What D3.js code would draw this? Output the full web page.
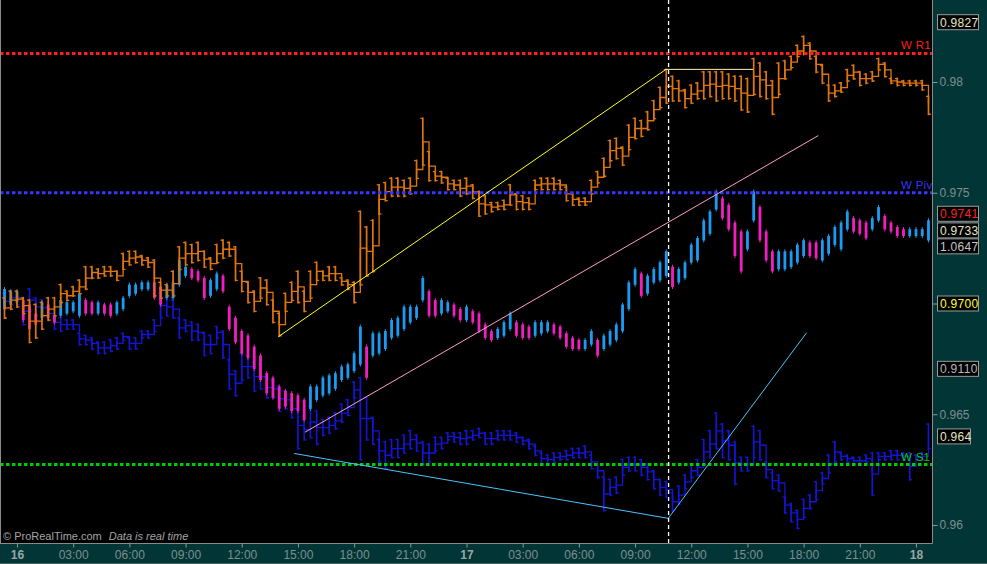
<!DOCTYPE html>
<html><head><meta charset="utf-8">
<script src="https://cdn.jsdelivr.net/npm/d3@7"></script>
<style>html,body{margin:0;padding:0;background:#000;overflow:hidden}svg{display:block}</style>
</head><body><svg id="c" width="987" height="564"></svg>
<script>
// ---- time of bars: 20-minute bars, first bar at 23:20 on the 15th (hours relative to the 16th 00:00)
const barStartHour = -2/3, barStepHours = 1/3;

// ---- orange instrument (hi / lo per bar)
const orangeHi = [0.9703,0.9706,0.9706,0.9703,0.9702,0.9700,0.9701,0.9703,0.9703,0.9709,
0.9706,0.9708,0.9711,0.9717,0.9717,0.9716,0.9717,0.9717,0.9715,0.9723,
0.9724,0.9724,0.9722,0.9721,0.9720,0.9710,0.9709,0.9715,0.9726,0.9728,
0.9727,0.9728,0.9724,0.9721,0.9727,0.9729,0.9728,0.9726,0.9715,0.9710,
0.9706,0.9712,0.9711,0.9702,0.9696,0.9705,0.9710,0.9715,0.9706,0.9715,
0.9719,0.9715,0.9717,0.9717,0.9712,0.9711,0.9710,0.9742,0.9735,0.9738,
0.9754,0.9755,0.9757,0.9757,0.9756,0.9757,0.9765,0.9784,0.9769,0.9760,
0.9760,0.9757,0.9756,0.9756,0.9757,0.9754,0.9751,0.9749,0.9746,0.9746,
0.9747,0.9754,0.9750,0.9749,0.9748,0.9756,0.9757,0.9757,0.9757,0.9756,
0.9753,0.9750,0.9748,0.9748,0.9756,0.9760,0.9766,0.9774,0.9775,0.9771,
0.9781,0.9784,0.9783,0.9787,0.9792,0.9798,0.9806,0.9803,0.9801,0.9797,
0.9799,0.9800,0.9805,0.9805,0.9805,0.9805,0.9804,0.9803,0.9803,0.9802,
0.9811,0.9809,0.9805,0.9801,0.9809,0.9810,0.9812,0.9817,0.9821,0.9818,
0.9812,0.9808,0.9799,0.9799,0.9800,0.9806,0.9808,0.9805,0.9804,0.9805,
0.9811,0.9809,0.9802,0.9802,0.9801,0.9801,0.9801,0.9801,0.9794];
const orangeLo = [0.9693,0.9697,0.9698,0.9695,0.9682,0.9684,0.9688,0.9692,0.9694,0.9700,
0.9701,0.9703,0.9704,0.9706,0.9711,0.9711,0.9712,0.9712,0.9710,0.9715,
0.9717,0.9718,0.9717,0.9716,0.9703,0.9702,0.9703,0.9703,0.9715,0.9717,
0.9718,0.9719,0.9716,0.9715,0.9718,0.9720,0.9721,0.9710,0.9705,0.9700,
0.9696,0.9702,0.9699,0.9691,0.9685,0.9696,0.9701,0.9700,0.9696,0.9702,
0.9710,0.9710,0.9710,0.9710,0.9708,0.9706,0.9700,0.9708,0.9712,0.9714,
0.9740,0.9746,0.9748,0.9748,0.9748,0.9749,0.9756,0.9762,0.9755,0.9755,
0.9754,0.9751,0.9751,0.9748,0.9749,0.9747,0.9739,0.9740,0.9741,0.9742,
0.9742,0.9744,0.9742,0.9742,0.9742,0.9751,0.9751,0.9751,0.9751,0.9751,
0.9746,0.9744,0.9744,0.9744,0.9749,0.9754,0.9757,0.9764,0.9765,0.9762,
0.9769,0.9774,0.9775,0.9778,0.9783,0.9788,0.9790,0.9791,0.9791,0.9788,
0.9790,0.9792,0.9792,0.9793,0.9791,0.9792,0.9792,0.9791,0.9787,0.9786,
0.9794,0.9793,0.9792,0.9785,0.9794,0.9801,0.9806,0.9811,0.9812,0.9810,
0.9804,0.9799,0.9791,0.9793,0.9795,0.9800,0.9801,0.9798,0.9799,0.9800,
0.9805,0.9802,0.9799,0.9798,0.9798,0.9798,0.9798,0.9796,0.9785];

// ---- cyan / magenta instrument
const cyanHi = [0.9707,0.9706,0.9706,0.9702,0.9700,0.9696,0.9701,0.9700,0.9695,0.9702,
0.9701,0.9701,0.9705,0.9702,0.9701,0.9701,0.9700,0.9700,0.9701,0.9703,
0.9709,0.9709,0.9710,0.9710,0.9710,0.9708,0.9709,0.9710,0.9720,0.9717,
0.9716,0.9715,0.9712,0.9711,0.9714,0.9713,0.9699,0.9694,0.9688,0.9686,
0.9681,0.9677,0.9669,0.9667,0.9663,0.9661,0.9660,0.9659,0.9657,0.9663,
0.9663,0.9667,0.9668,0.9669,0.9672,0.9673,0.9678,0.9690,0.9681,0.9687,
0.9687,0.9688,0.9693,0.9694,0.9699,0.9699,0.9699,0.9712,0.9706,0.9702,
0.9702,0.9701,0.9700,0.9698,0.9699,0.9697,0.9696,0.9691,0.9688,0.9689,
0.9692,0.9696,0.9692,0.9691,0.9690,0.9692,0.9692,0.9692,0.9691,0.9690,
0.9687,0.9685,0.9684,0.9684,0.9688,0.9684,0.9686,0.9688,0.9691,0.9700,
0.9710,0.9716,0.9714,0.9713,0.9716,0.9719,0.9724,0.9717,0.9716,0.9719,
0.9727,0.9730,0.9738,0.9742,0.9751,0.9748,0.9745,0.9737,0.9733,0.9733,
0.9751,0.9744,0.9733,0.9724,0.9724,0.9724,0.9724,0.9727,0.9729,0.9728,
0.9728,0.9729,0.9731,0.9735,0.9737,0.9742,0.9739,0.9738,0.9737,0.9739,
0.9744,0.9740,0.9737,0.9735,0.9734,0.9734,0.9734,0.9734,0.9738];
const cyanLo = [0.9697,0.9699,0.9700,0.9692,0.9688,0.9690,0.9693,0.9693,0.9691,0.9694,
0.9695,0.9696,0.9694,0.9695,0.9695,0.9695,0.9695,0.9694,0.9695,0.9697,
0.9703,0.9704,0.9706,0.9706,0.9702,0.9699,0.9702,0.9702,0.9708,0.9712,
0.9711,0.9710,0.9702,0.9703,0.9706,0.9705,0.9688,0.9682,0.9677,0.9675,
0.9670,0.9665,0.9659,0.9657,0.9652,0.9653,0.9651,0.9651,0.9647,0.9652,
0.9656,0.9658,0.9659,0.9661,0.9665,0.9666,0.9669,0.9672,0.9666,0.9676,
0.9677,0.9679,0.9684,0.9685,0.9688,0.9691,0.9693,0.9701,0.9694,0.9694,
0.9695,0.9696,0.9694,0.9692,0.9692,0.9691,0.9687,0.9684,0.9683,0.9684,
0.9685,0.9688,0.9685,0.9684,0.9684,0.9685,0.9686,0.9687,0.9686,0.9684,
0.9680,0.9679,0.9679,0.9679,0.9681,0.9676,0.9679,0.9681,0.9683,0.9687,
0.9697,0.9708,0.9703,0.9704,0.9709,0.9710,0.9712,0.9707,0.9709,0.9711,
0.9718,0.9719,0.9728,0.9731,0.9742,0.9738,0.9733,0.9721,0.9714,0.9724,
0.9737,0.9728,0.9719,0.9714,0.9715,0.9715,0.9716,0.9718,0.9721,0.9721,
0.9720,0.9719,0.9722,0.9726,0.9724,0.9733,0.9732,0.9731,0.9729,0.9733,
0.9737,0.9733,0.9732,0.9730,0.9730,0.9730,0.9730,0.9730,0.9728];

// ---- dark blue instrument
const blueHi = [0.9705,0.9706,0.9706,0.9703,0.9707,0.9703,0.9702,0.9699,0.9695,0.9694,
0.9693,0.9693,0.9687,0.9686,0.9685,0.9683,0.9683,0.9684,0.9685,0.9687,
0.9685,0.9685,0.9688,0.9688,0.9693,0.9705,0.9703,0.9702,0.9694,0.9693,
0.9692,0.9691,0.9687,0.9686,0.9690,0.9688,0.9675,0.9670,0.9678,0.9677,
0.9674,0.9673,0.9667,0.9666,0.9663,0.9661,0.9657,0.9656,0.9648,0.9654,
0.9652,0.9648,0.9649,0.9651,0.9655,0.9657,0.9665,0.9667,0.9658,0.9649,
0.9639,0.9638,0.9639,0.9639,0.9641,0.9643,0.9641,0.9638,0.9637,0.9640,
0.9640,0.9642,0.9642,0.9642,0.9643,0.9643,0.9644,0.9642,0.9642,0.9643,
0.9643,0.9643,0.9642,0.9640,0.9639,0.9636,0.9633,0.9632,0.9633,0.9633,
0.9634,0.9635,0.9635,0.9636,0.9632,0.9628,0.9622,0.9621,0.9622,0.9630,
0.9631,0.9631,0.9630,0.9628,0.9625,0.9621,0.9620,0.9615,0.9618,0.9623,
0.9628,0.9630,0.9639,0.9643,0.9651,0.9646,0.9643,0.9638,0.9631,0.9631,
0.9645,0.9643,0.9629,0.9624,0.9623,0.9613,0.9610,0.9607,0.9612,0.9614,
0.9620,0.9624,0.9632,0.9638,0.9633,0.9632,0.9631,0.9631,0.9632,0.9633,
0.9633,0.9633,0.9634,0.9634,0.9633,0.9633,0.9632,0.9633,0.9646];
const blueLo = [0.9697,0.9699,0.9699,0.9690,0.9696,0.9694,0.9694,0.9692,0.9688,0.9687,
0.9688,0.9688,0.9681,0.9681,0.9679,0.9677,0.9677,0.9678,0.9679,0.9683,
0.9679,0.9679,0.9684,0.9684,0.9687,0.9693,0.9694,0.9693,0.9684,0.9687,
0.9683,0.9683,0.9676,0.9677,0.9684,0.9675,0.9661,0.9658,0.9665,0.9666,
0.9660,0.9661,0.9657,0.9657,0.9651,0.9652,0.9648,0.9634,0.9638,0.9639,
0.9636,0.9640,0.9641,0.9643,0.9646,0.9649,0.9657,0.9629,0.9638,0.9636,
0.9628,0.9625,0.9630,0.9630,0.9632,0.9634,0.9633,0.9627,0.9628,0.9633,
0.9634,0.9638,0.9637,0.9636,0.9636,0.9638,0.9639,0.9636,0.9636,0.9638,
0.9638,0.9638,0.9637,0.9636,0.9634,0.9631,0.9627,0.9627,0.9628,0.9629,
0.9629,0.9630,0.9630,0.9630,0.9625,0.9621,0.9606,0.9613,0.9614,0.9622,
0.9624,0.9624,0.9622,0.9620,0.9616,0.9613,0.9612,0.9606,0.9609,0.9616,
0.9621,0.9622,0.9627,0.9630,0.9634,0.9630,0.9629,0.9618,0.9624,0.9624,
0.9630,0.9629,0.9621,0.9616,0.9615,0.9605,0.9601,0.9598,0.9603,0.9607,
0.9611,0.9618,0.9623,0.9628,0.9629,0.9628,0.9627,0.9627,0.9628,0.9613,
0.9629,0.9629,0.9629,0.9629,0.9629,0.9620,0.9629,0.9629,0.9634];

// ---- axes
const xTickHours  = [0,3,6,9,12,15,18,21,24,27,30,33,36,39,42,45,48];
const xTickLabels = ["16","03:00","06:00","09:00","12:00","15:00","18:00","21:00","17","03:00","06:00","09:00","12:00","15:00","18:00","21:00","18"];
const yTickValues = [0.98,0.975,0.97,0.965,0.96];
const yTickLabels = ["0.98","0.975","0.97","0.965","0.96"];

// ---- weekly pivot levels
const levelNames  = ["W R1","W Piv","W S1"];
const levelValues = [0.98129,0.975,0.96273];

// ---- last-value boxes on the price scale
const boxTexts  = ["0.9827","0.9741","0.9733","1.0647","0.9700","0.9110","0.964"];
const boxPrices = [0.9827,0.97405,0.9733,0.97258,0.9700,0.96705,0.964];

// ---- drawn trend lines [hour, price]
const yellowTrend = [[13.95,0.9685],[34.6,0.98054]];
const whiteLevel  = [[34.6,0.98057],[39.3,0.98057]];
const pinkTrend   = [[15.38,0.96419],[42.78,0.97758]];
const blueTrend   = [[14.8,0.96323],[34.77,0.9603],[42.16,0.96868]];
const cursorHour  = 34.79;

// ================= drawing =================
const W = 987, H = 564, plotR = 932, plotB = 543;
const svg = d3.select("#c");
const x = d3.scaleLinear().domain([0,48]).range([17,916]);
const y = d3.scaleLinear().domain([0.96,0.98]).range([525,82]);
const FONT = "'Liberation Sans', Arial, sans-serif";

svg.append("rect").attr("width",W).attr("height",H).attr("fill","#000");
svg.append("defs").append("clipPath").attr("id","pc")
  .append("rect").attr("x",1).attr("y",0).attr("width",plotR-1).attr("height",plotB);
const plot = svg.append("g").attr("clip-path","url(#pc)");

function bars(hi, lo){
  return hi.map((h,i)=>({t: barStartHour + i*barStepHours, hi: h, lo: lo[i], mid:(h+lo[i])/2, prev: i? (hi[i-1]+lo[i-1])/2 : (h+lo[i])/2}));
}
function drawStepBars(hi, lo, color){
  const pts = bars(hi, lo);
  const g = plot.append("g");
  g.selectAll("line").data(pts).join("line")
    .attr("x1",d=>x(d.t)).attr("x2",d=>x(d.t))
    .attr("y1",d=>y(d.hi)).attr("y2",d=>y(d.lo))
    .attr("stroke",color).attr("stroke-width",1.7);
  g.selectAll("path.tk").data(pts).join("path").attr("class","tk")
    .attr("d",d=>`M${x(d.t)-2.4},${y(d.hi)+1}h2.4M${x(d.t)},${y(d.lo)-1}h2.4`)
    .attr("stroke",color).attr("stroke-width",1.3).attr("fill","none");
  const ln = d3.line().x(d=>x(d.t)).y(d=>y(d.mid)).curve(d3.curveStepAfter);
  g.append("path").attr("d",ln(pts)).attr("fill","none").attr("stroke",color).attr("stroke-width",1.3);
}
drawStepBars(blueHi, blueLo, "#1414d2");

// cyan / magenta columns
const cpts = bars(cyanHi, cyanLo);
const cg = plot.append("g");
cg.selectAll("line").data(cpts).join("line")
  .attr("x1",d=>x(d.t)).attr("x2",d=>x(d.t))
  .attr("y1",d=>y(d.hi)-1).attr("y2",d=>y(d.lo)+1)
  .attr("stroke",d=> d.mid < d.prev ? "#f21fc0" : "#1b9cf2").attr("stroke-width",1);
cg.selectAll("rect").data(cpts).join("rect")
  .attr("x",d=>x(d.t)-1.4).attr("width",2.8)
  .attr("y",d=>y(d.hi)+1).attr("height",d=>Math.max(1,y(d.lo)-y(d.hi)-2))
  .attr("fill",d=> d.mid < d.prev ? "#f21fc0" : "#1b9cf2");

drawStepBars(orangeHi, orangeLo, "#e0750e");

// pivot levels
const levelColors = ["#ff1e1e","#3636ff","#00cc00"];
levelValues.forEach((v,i)=>{
  plot.append("line").attr("x1",0).attr("x2",plotR).attr("y1",y(v)).attr("y2",y(v))
    .attr("stroke",levelColors[i]).attr("stroke-width",3).attr("stroke-dasharray","3.5,2.5");
  plot.append("text").attr("x",901).attr("y",y(v)-4).text(levelNames[i])
    .attr("fill",levelColors[i]).attr("font-family",FONT).attr("font-size",11.5).attr("letter-spacing",0.3);
});

// trend lines
const tl = d3.line().x(d=>x(d[0])).y(d=>y(d[1]));
plot.append("path").attr("d",tl(yellowTrend)).attr("stroke","#ffff20").attr("stroke-width",1).attr("fill","none");
plot.append("path").attr("d",tl(whiteLevel)).attr("stroke","#fff2b0").attr("stroke-width",1).attr("fill","none");
plot.append("path").attr("d",tl(pinkTrend)).attr("stroke","#ff9ccc").attr("stroke-width",1).attr("fill","none");
plot.append("path").attr("d",tl(blueTrend)).attr("stroke","#4ec2ff").attr("stroke-width",1).attr("fill","none");

// cursor
plot.append("line").attr("x1",x(cursorHour)).attr("x2",x(cursorHour)).attr("y1",0).attr("y2",plotB)
  .attr("stroke","#fff").attr("stroke-width",1.3).attr("stroke-dasharray","4,3");

// copyright
const cp = svg.append("text").attr("x",3).attr("y",540).attr("font-family",FONT).attr("font-size",11).attr("fill","#a4a4a4");
cp.append("tspan").text("© ProRealTime.com");
cp.append("tspan").attr("dx",7).attr("font-style","italic").text("Data is real time");

// axis panels
const PANEL = "#023636";
svg.append("rect").attr("x",plotR+0.5).attr("y",0).attr("width",W-plotR).attr("height",H).attr("fill",PANEL);
svg.append("rect").attr("x",0).attr("y",plotB+0.5).attr("width",W).attr("height",H-plotB).attr("fill",PANEL);
svg.append("line").attr("x1",plotR+0.5).attr("x2",plotR+0.5).attr("y1",0).attr("y2",plotB+0.5).attr("stroke","#8a8a8a");
svg.append("line").attr("x1",0).attr("x2",plotR+0.5).attr("y1",plotB+0.5).attr("y2",plotB+0.5).attr("stroke","#8a8a8a");
svg.append("line").attr("x1",0.5).attr("x2",0.5).attr("y1",0).attr("y2",plotB).attr("stroke","#8a8a8a");
svg.append("line").attr("x1",0).attr("x2",W).attr("y1",H-0.5).attr("y2",H-0.5).attr("stroke","#4a6060");

// right axis (labels hidden where a value box sits on top of them)
const covered = v => boxPrices.some(p => Math.abs(y(p)-y(v)) < 9);
const ya = svg.append("g").attr("transform",`translate(${plotR+0.5},0)`)
  .call(d3.axisRight(y).tickValues(yTickValues).tickFormat((d,i)=> covered(d) ? "" : yTickLabels[i]).tickSize(5).tickPadding(2));
ya.select(".domain").remove();
ya.selectAll("line").attr("stroke","#8a9898");
ya.selectAll("text").attr("fill","#7f8e8e").attr("font-family",FONT).attr("font-size",12);

// bottom axis
const xa = svg.append("g").attr("transform",`translate(0,${plotB+0.5})`)
  .call(d3.axisBottom(x).tickValues(xTickHours).tickFormat((d,i)=>xTickLabels[i]).tickSize(4).tickPadding(3));
xa.select(".domain").remove();
xa.selectAll("line").attr("stroke","#8a9898");
xa.selectAll("text").attr("font-family",FONT).attr("font-size",12)
  .attr("fill",(d,i)=> xTickLabels[i].includes(":") ? "#7f8e8e" : "#9aa6a6")
  .attr("font-weight",(d,i)=> xTickLabels[i].includes(":") ? "normal" : "bold");

// value boxes
const boxColors = ["#e6e6c4","#ff2222","#e6e6c4","#c4c4c4","#ffff22","#b8b8b8","#e6e6c4"];
boxTexts.forEach((t,i)=>{
  const cy = y(boxPrices[i]);
  const w = t.length > 5 ? 41 : 33;
  svg.append("rect").attr("x",937.5).attr("y",cy-7.5).attr("width",w).attr("height",15)
    .attr("fill","#000").attr("stroke","#9a9a9a").attr("stroke-width",1);
  svg.append("text").attr("x",940).attr("y",cy+4.5).text(t).attr("fill",boxColors[i])
    .attr("font-family",FONT).attr("font-size",12).attr("letter-spacing",0.3);
});
</script></body></html>
